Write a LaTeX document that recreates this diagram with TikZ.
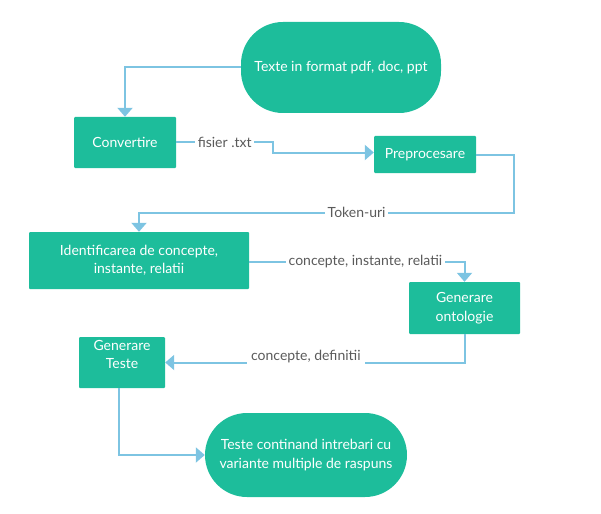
\documentclass[tikz,border=0pt]{standalone}
\usepackage{fontspec}
\setmainfont{Lato}
\usetikzlibrary{arrows.meta}

\definecolor{flowteal}{HTML}{1DBD9B}
\definecolor{flowline}{HTML}{7DC4E2}
\definecolor{flowtext}{HTML}{5A5A5A}

\tikzstyle{stepbox}=[fill=flowteal,text=white,rectangle,rounded corners=1pt,inner sep=0pt,align=center,font=\fontsize{14}{18.5}\selectfont]
\tikzstyle{terminal}=[stepbox,rounded corners=42pt]
\tikzstyle{flow} = [draw=flowline,line width=2pt,-{Triangle[width=15pt,length=9pt]}]
\tikzstyle{tag} = [fill=white,text=flowtext,inner sep=2.5pt,font=\fontsize{14}{16}\selectfont]

\begin{document}
\begin{tikzpicture}[x=1pt, y=-1pt]
    \useasboundingbox (0,0) rectangle (601,513);
    % First the start and end of the flow
    \node[terminal, minimum width=200pt, minimum height=91pt] (start) at (341,67.5) {Texte in format pdf, doc, ppt};
    \node[terminal, minimum width=202pt, minimum height=84pt] (stop) at (306,455) {Teste continand intrebari cu\\ variante multiple de raspuns};
    % Then the processing steps
    \foreach \pos/\w/\h/\name/\txt in {{(125,142.5)/102/51/conv/Convertire},
                                       {(425,154.5)/102/37/prep/Preprocesare},
                                       {(139,260.5)/220/57/ident/{Identificarea de concepte,\\ instante, relatii}},
                                       {(464.5,308)/111/52/onto/{Generare\\ ontologie}}}
        \node[stepbox, minimum width=\w pt, minimum height=\h pt] (\name) at \pos {\txt};
    \node[stepbox, minimum width=86pt, minimum height=51pt, text depth=16pt] (teste) at (122,362.5) {Generare\\ Teste};
    % Connect the steps with arrows and put the data on them
    \path[flow] (start.west) -| (conv.north);
    \path[flow] (conv.east) -- node[tag] {fisier .txt} ++(97,0) |- ([yshift=2pt]prep.west);
    \path[flow] (prep.east) -- ++(38,0) -- ++(0,58) -| node[tag, pos=0.21] {Token-uri} (ident.north);
    \path[flow] ([yshift=-1.5pt]ident.east) -| node[tag, pos=0.27] {concepte, instante, relatii} (onto.north);
    \path[flow] (onto.south) |- node[tag, pos=0.765, yshift=6pt, inner sep=4pt] {concepte, definitii} (teste.east);
    \path[flow] ([xshift=-3pt]teste.south) |- (stop.west);
\end{tikzpicture}
\end{document}
